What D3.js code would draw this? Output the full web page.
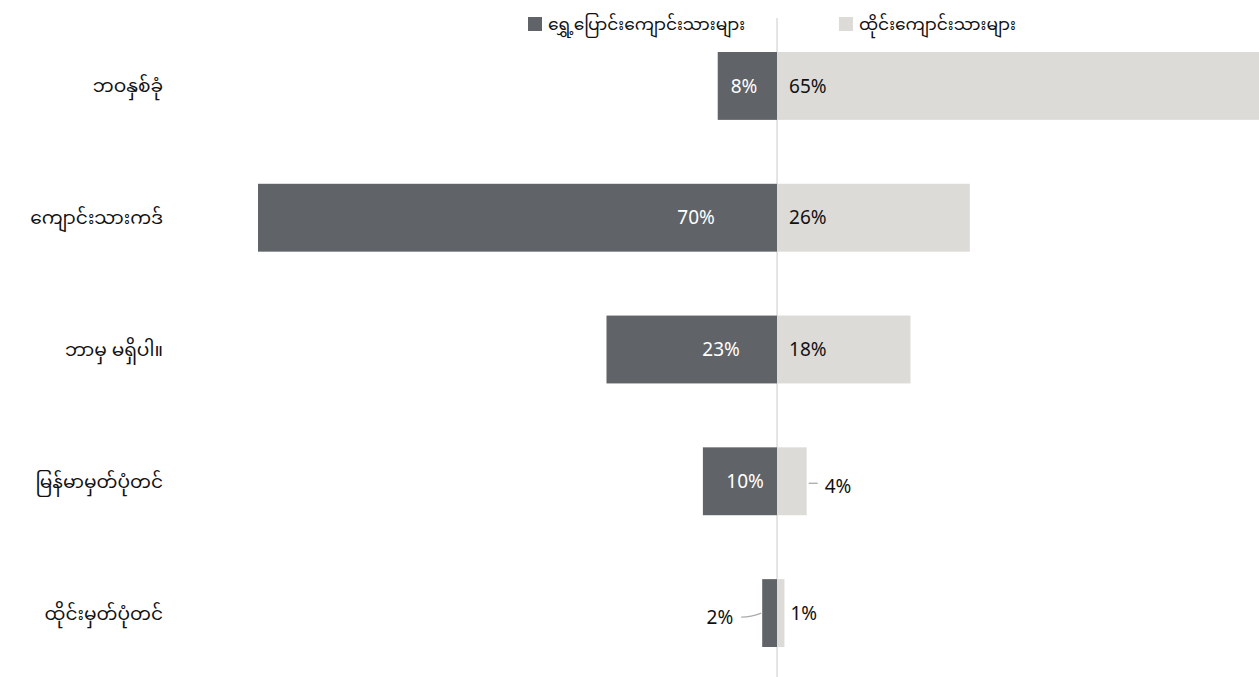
<!DOCTYPE html>
<html>
<head>
<meta charset="utf-8">
<script src="https://cdn.jsdelivr.net/npm/d3@7"></script>
<style>
  html, body { margin: 0; padding: 0; background: #fff; }
  svg { display: block; }
  .cat, .legend-text { font-family: "Noto Sans Myanmar", "Padauk", "Myanmar Text", "Noto Sans", sans-serif; }
  .val { font-family: "Noto Sans", "Open Sans", sans-serif; }
</style>
</head>
<body>
<svg id="chart" width="1259" height="677"></svg>
<script>
// Survey answers: share of migrant students vs. Thai students
const categories = ["ဘဝနှစ်ခုံ", "ကျောင်းသားကဒ်", "ဘာမှ မရှိပါ။", "မြန်မာမှတ်ပုံတင်", "ထိုင်းမှတ်ပုံတင်"];
const migrantValues = [8, 70, 23, 10, 2];
const thaiValues = [65, 26, 18, 4, 1];
const seriesNames = ["ရွှေ့ပြောင်းကျောင်းသားများ", "ထိုင်းကျောင်းသားများ"];

const W = 1259, H = 677;
const darkColor = "#606367";
const lightColor = "#dcdbd8";

const svg = d3.select("#chart");

const x = d3.scaleLinear().domain([-70, 65]).range([258, 1259]);
const y = d3.scaleBand().domain(categories).range([52, 647]).paddingInner(0.485).paddingOuter(0);
const x0 = x(0);

// centre divider
svg.append("line")
  .attr("x1", x0).attr("x2", x0)
  .attr("y1", 18).attr("y2", H)
  .attr("stroke", "#dcdcdc").attr("stroke-width", 1.5);

// legend
const legend = [
  { name: seriesNames[0], color: darkColor, x: 528 },
  { name: seriesNames[1], color: lightColor, x: 839 }
];
const lg = svg.append("g").selectAll("g").data(legend).join("g")
  .attr("transform", d => `translate(${d.x},17)`);
lg.append("rect").attr("width", 14).attr("height", 14).attr("fill", d => d.color);
lg.append("text").attr("class", "legend-text")
  .attr("x", 20).attr("y", 7).attr("dy", "0.35em")
  .attr("font-size", 17).attr("fill", "#111")
  .text(d => d.name);

// category labels
svg.append("g").selectAll("text").data(categories).join("text")
  .attr("class", "cat")
  .attr("x", 163)
  .attr("y", d => y(d) + y.bandwidth() / 2)
  .attr("dy", "0.35em")
  .attr("text-anchor", "end")
  .attr("font-size", 18.6)
  .attr("fill", "#111")
  .text(d => d);

// bars
const rows = categories.map((c, i) => ({ cat: c, m: migrantValues[i], t: thaiValues[i], i }));

svg.append("g").selectAll("rect").data(rows).join("rect")
  .attr("x", d => x(-d.m))
  .attr("y", d => y(d.cat))
  .attr("width", d => x0 - x(-d.m))
  .attr("height", y.bandwidth())
  .attr("fill", darkColor);

svg.append("g").selectAll("rect").data(rows).join("rect")
  .attr("x", x0)
  .attr("y", d => y(d.cat))
  .attr("width", d => x(d.t) - x0)
  .attr("height", y.bandwidth())
  .attr("fill", lightColor);

// value labels: horizontal centre of each migrant label, measured from the divider
const migrantLabelInset = [33, 81, 56, 32, null];
const fs = 19;

rows.forEach(d => {
  const cy = y(d.cat) + y.bandwidth() / 2;
  // migrant side
  if (migrantLabelInset[d.i] !== null) {
    svg.append("text").attr("class", "val")
      .attr("x", x0 - migrantLabelInset[d.i]).attr("y", cy).attr("dy", "0.35em")
      .attr("text-anchor", "middle").attr("font-size", fs).attr("fill", "#fff")
      .text(d.m + "%");
  } else {
    const bx = x(-d.m);
    svg.append("path")
      .attr("d", `M${bx - 21},${cy + 4} C${bx - 12},${cy + 4} ${bx - 6},${cy + 2} ${bx - 1},${cy}`)
      .attr("fill", "none").attr("stroke", "#aaa").attr("stroke-width", 1.3);
    svg.append("text").attr("class", "val")
      .attr("x", bx - 29).attr("y", cy + 4).attr("dy", "0.35em")
      .attr("text-anchor", "end").attr("font-size", fs).attr("fill", "#111")
      .text(d.m + "%");
  }
  // thai side
  const ex = x(d.t);
  if (ex - x0 > 60) {
    svg.append("text").attr("class", "val")
      .attr("x", x0 + 12).attr("y", cy).attr("dy", "0.35em")
      .attr("font-size", fs).attr("fill", "#111")
      .text(d.t + "%");
  } else if (ex - x0 > 20) {
    svg.append("line")
      .attr("x1", ex + 2).attr("x2", ex + 11).attr("y1", cy + 2).attr("y2", cy + 2)
      .attr("stroke", "#aaa").attr("stroke-width", 1.3);
    svg.append("text").attr("class", "val")
      .attr("x", ex + 18).attr("y", cy + 5).attr("dy", "0.35em")
      .attr("font-size", fs).attr("fill", "#111")
      .text(d.t + "%");
  } else {
    svg.append("text").attr("class", "val")
      .attr("x", ex + 6).attr("y", cy).attr("dy", "0.35em")
      .attr("font-size", fs).attr("fill", "#111")
      .text(d.t + "%");
  }
});
</script>
</body>
</html>
